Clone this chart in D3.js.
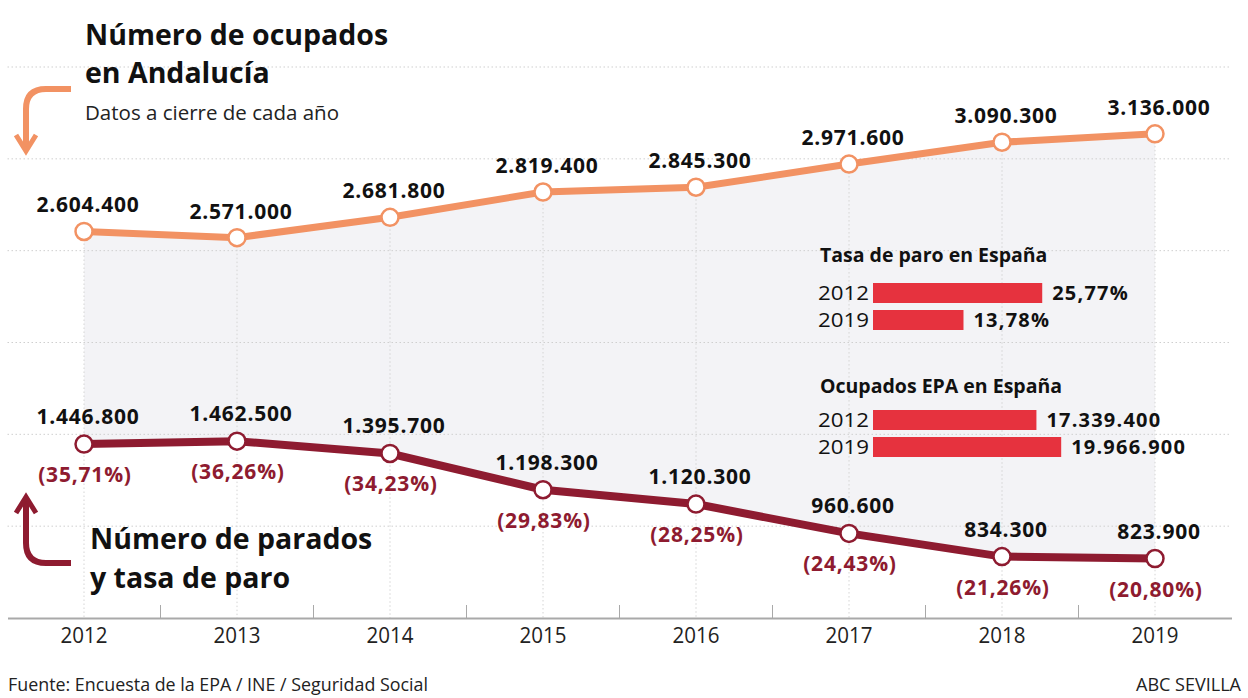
<!DOCTYPE html>
<html><head><meta charset="utf-8">
<script src="https://cdn.jsdelivr.net/npm/d3@7"></script>
<style>
html,body{margin:0;padding:0;background:#fff;}
svg{display:block;}
.b{font-family:"Open Sans","Noto Sans",sans-serif;font-weight:700;}
.r{font-family:"Open Sans","Noto Sans",sans-serif;font-weight:400;}
</style></head>
<body>
<svg id="chart" width="1248" height="698"></svg>
<script>
const years = ["2012","2013","2014","2015","2016","2017","2018","2019"];
const ocupados = [2604400,2571000,2681800,2819400,2845300,2971600,3090300,3136000];
const parados = [1446800,1462500,1395700,1198300,1120300,960600,834300,823900];
const tasaParo = ["35,71%","36,26%","34,23%","29,83%","28,25%","24,43%","21,26%","20,80%"];
const gridValues = [1000000,1500000,2000000,2500000,3000000,3500000];
const tasaEspYears = ["2012","2019"];
const tasaEsp = [25.77,13.78];
const tasaEspLabels = ["25,77%","13,78%"];
const ocupEspYears = ["2012","2019"];
const ocupEsp = [17339400,19966900];
const ocupEspLabels = ["17.339.400","19.966.900"];

const fmt = v => d3.format(",")(v).replace(/,/g,".");
const ORANGE="#f29263", DARK="#8e1b30", RED="#e6323e";

const svg = d3.select("#chart");
const x = d3.scaleBand().domain(years).range([7.5,1231.5]).paddingInner(0).paddingOuter(0);
const cx = d => x(d)+x.bandwidth()/2;
const y = d3.scaleLinear().domain([500000,3500000]).range([618,67]);

const rows = years.map((yr,i)=>({yr,o:ocupados[i],p:parados[i],t:tasaParo[i]}));

// shaded area between lines
svg.append("path").datum(rows)
  .attr("fill","#f3f3f6")
  .attr("d", d3.area().x(d=>cx(d.yr)).y0(d=>y(d.p)).y1(d=>y(d.o)));

// horizontal dotted grid
svg.append("g").selectAll("line").data(gridValues).join("line")
  .attr("x1",7.5).attr("x2",1231.5)
  .attr("y1",d=>y(d)).attr("y2",d=>y(d))
  .attr("stroke","#cfcfcf").attr("stroke-width",1).attr("stroke-dasharray","1.5,2.5");

// vertical dotted grid
svg.append("g").selectAll("line").data(rows).join("line")
  .attr("x1",d=>cx(d.yr)).attr("x2",d=>cx(d.yr))
  .attr("y1",d=>y(d.o)).attr("y2",y(500000))
  .attr("stroke","#d4d4d4").attr("stroke-width",1).attr("stroke-dasharray","1.5,2.5");

// x axis
const ax = svg.append("g").attr("transform",`translate(0,${y(500000)})`)
  .call(d3.axisBottom(x).tickSize(0).tickPadding(9));
ax.select(".domain").attr("stroke","#a9a9a9").attr("stroke-width",2);
ax.selectAll("text").attr("class","r").attr("font-size",22).attr("fill","#222")
  .attr("dy","0.71em").attr("textLength",47).attr("lengthAdjust","spacingAndGlyphs");
svg.append("g").selectAll("line").data(years.slice(1)).join("line")
  .attr("x1",d=>x(d)).attr("x2",d=>x(d))
  .attr("y1",y(500000)-13).attr("y2",y(500000))
  .attr("stroke","#a9a9a9").attr("stroke-width",1);

// lines
svg.append("path").datum(rows).attr("fill","none").attr("stroke",ORANGE).attr("stroke-width",7)
  .attr("d", d3.line().x(d=>cx(d.yr)).y(d=>y(d.o)));
svg.append("path").datum(rows).attr("fill","none").attr("stroke",DARK).attr("stroke-width",8)
  .attr("d", d3.line().x(d=>cx(d.yr)).y(d=>y(d.p)));

svg.append("g").selectAll("circle").data(rows).join("circle")
  .attr("cx",d=>cx(d.yr)).attr("cy",d=>y(d.o)).attr("r",8.5)
  .attr("fill","#fff").attr("stroke",ORANGE).attr("stroke-width",2.5);
svg.append("g").selectAll("circle").data(rows).join("circle")
  .attr("cx",d=>cx(d.yr)).attr("cy",d=>y(d.p)).attr("r",8.5)
  .attr("fill","#fff").attr("stroke",DARK).attr("stroke-width",2.5);

// value labels
svg.append("g").selectAll("text").data(rows).join("text")
  .attr("class","b").attr("font-size",21).attr("fill","#111").attr("text-anchor","middle")
  .attr("letter-spacing",0.8)
  .attr("x",d=>cx(d.yr)+4).attr("y",d=>y(d.o)-19).text(d=>fmt(d.o));
svg.append("g").selectAll("text").data(rows).join("text")
  .attr("class","b").attr("font-size",21).attr("fill","#111").attr("text-anchor","middle")
  .attr("letter-spacing",0.8)
  .attr("x",d=>cx(d.yr)+4).attr("y",d=>y(d.p)-20).text(d=>fmt(d.p));
svg.append("g").selectAll("text").data(rows).join("text")
  .attr("class","b").attr("font-size",21).attr("fill",DARK).attr("text-anchor","middle")
  .attr("letter-spacing",0.8)
  .attr("x",d=>cx(d.yr)+1).attr("y",d=>y(d.p)+38).text(d=>"("+d.t+")");

// titles
const t1 = svg.append("text").attr("class","b").attr("font-size",28.5).attr("fill","#111");
t1.append("tspan").attr("x",85).attr("y",45).text("Número de ocupados");
t1.append("tspan").attr("x",85).attr("y",83).text("en Andalucía");
svg.append("text").attr("class","r").attr("font-size",20.5)
  .attr("fill","#222").attr("x",85).attr("y",120).text("Datos a cierre de cada año");
const t2 = svg.append("text").attr("class","b").attr("font-size",28.5).attr("fill","#111");
t2.append("tspan").attr("x",90).attr("y",549).text("Número de parados");
t2.append("tspan").attr("x",90).attr("y",588).text("y tasa de paro");

// arrows
svg.append("path").attr("d","M71,89 L46,89 Q26,89 26,109 L26,149")
  .attr("fill","none").attr("stroke",ORANGE).attr("stroke-width",6);
svg.append("path").attr("d","M16,135 L26,151 L36,135")
  .attr("fill","none").attr("stroke",ORANGE).attr("stroke-width",5).attr("stroke-linejoin","miter");
svg.append("path").attr("d","M71,563 L46,563 Q26,563 26,543 L26,499")
  .attr("fill","none").attr("stroke",DARK).attr("stroke-width",6);
svg.append("path").attr("d","M16,513 L26,497 L36,513")
  .attr("fill","none").attr("stroke",DARK).attr("stroke-width",5).attr("stroke-linejoin","miter");

// insets
function inset(title, ty, yrs, vals, labels, xs, barTops){
  const g = svg.append("g");
  g.append("text").attr("class","b").attr("font-size",19.5).attr("fill","#111")
    .attr("x",820).attr("y",ty).text(title);
  yrs.forEach((yr,i)=>{
    g.append("text").attr("class","r").attr("font-size",19.5)
      .attr("textLength",51).attr("lengthAdjust","spacingAndGlyphs")
      .attr("fill","#111").attr("x",818).attr("y",barTops[i]+17).text(yr);
    g.append("rect").attr("x",873).attr("y",barTops[i]).attr("height",20)
      .attr("width",xs(vals[i])).attr("fill",RED);
    g.append("text").attr("class","b").attr("font-size",20).attr("fill","#111")
      .attr("letter-spacing",1.2)
      .attr("x",873+xs(vals[i])+10).attr("y",barTops[i]+17).text(labels[i]);
  });
}
inset("Tasa de paro en España",262,tasaEspYears,tasaEsp,tasaEspLabels,
  d3.scaleLinear().domain([0,30]).range([0,197]),[283,310]);
inset("Ocupados EPA en España",393,ocupEspYears,ocupEsp,ocupEspLabels,
  d3.scaleLinear().domain([0,20000000]).range([0,188.5]),[410,437]);

// footer
svg.append("text").attr("class","r").attr("font-size",19).attr("fill","#222")
  .attr("x",8).attr("y",691).attr("textLength",420).attr("lengthAdjust","spacingAndGlyphs")
  .text("Fuente: Encuesta de la EPA / INE / Seguridad Social");
svg.append("text").attr("class","r").attr("font-size",19).attr("fill","#222")
  .attr("x",1241).attr("y",691).attr("text-anchor","end")
  .attr("textLength",105).attr("lengthAdjust","spacingAndGlyphs").text("ABC SEVILLA");
</script>
</body></html>
